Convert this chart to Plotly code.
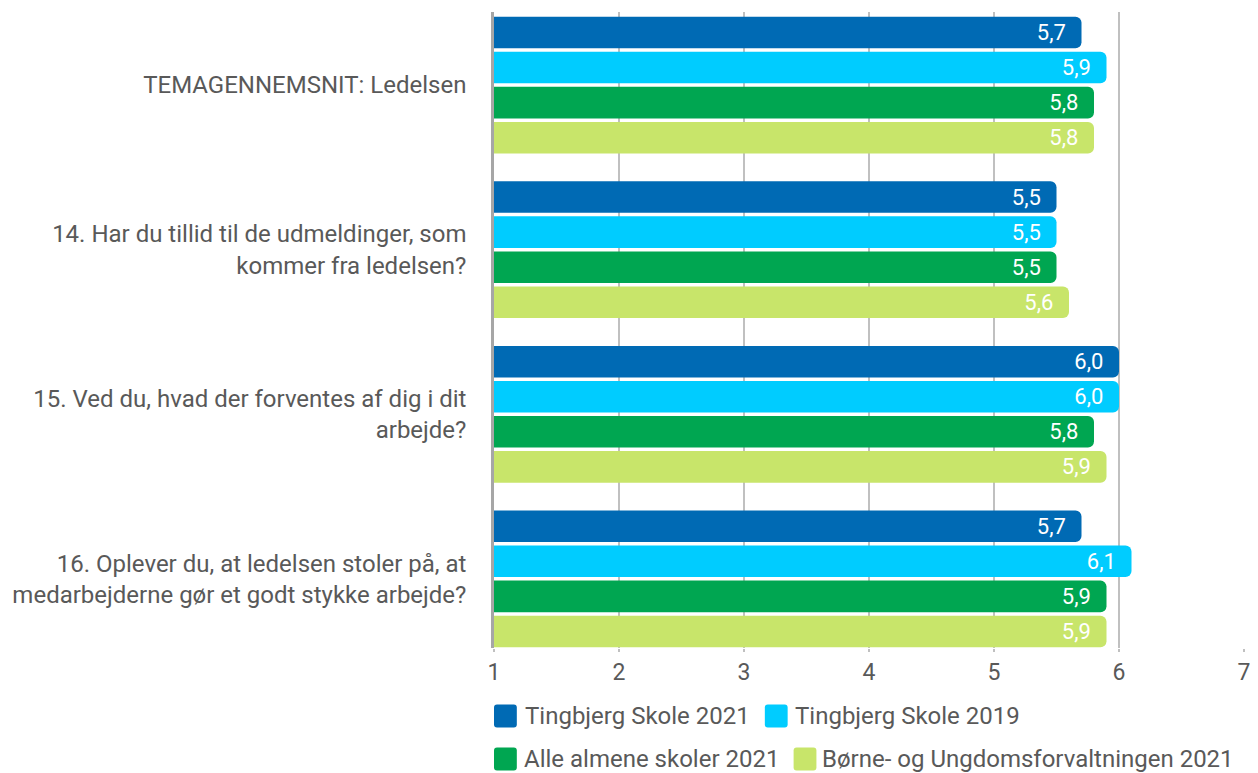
import plotly.graph_objects as go

categories = [
    "TEMAGENNEMSNIT: Ledelsen",
    "14. Har du tillid til de udmeldinger, som<br>kommer fra ledelsen?",
    "15. Ved du, hvad der forventes af dig i dit<br>arbejde?",
    "16. Oplever du, at ledelsen stoler på, at<br>medarbejderne gør et godt stykke arbejde?",
]
series_names = [
    "Tingbjerg Skole 2021",
    "Tingbjerg Skole 2019",
    "Alle almene skoler 2021",
    "Børne- og Ungdomsforvaltningen 2021",
]
tingbjerg_2021 = [5.7, 5.5, 6.0, 5.7]
tingbjerg_2019 = [5.9, 5.5, 6.0, 6.1]
alle_almene_2021 = [5.8, 5.5, 5.8, 5.9]
buf_2021 = [5.8, 5.6, 5.9, 5.9]
series_values = [tingbjerg_2021, tingbjerg_2019, alle_almene_2021, buf_2021]
x_ticks = [1, 2, 3, 4, 5, 6, 7]
x_ticktext = ["1", "2", "3", "4", "5", "6", "7"]

colors = ["#006AB4", "#00CCFF", "#00A651", "#C8E56A"]
FONT = "Roboto, 'Open Sans', sans-serif"
TXT = "#595959"

# page body has an 8px margin: figure is drawn at (8, 8) in the window
OFF = 8
W, H = 1258 - OFF, 773 - OFF
L, R, T, B = 488 - OFF, 1258 - 1244, 12 - OFF, 773 - 648
pw, ph = W - L - R, H - T - B


def px_to_paper(x, y):
    # x, y in window pixels
    return (x - OFF - L) / pw, (H - B - (y - OFF)) / ph


fig = go.Figure()
for name, vals, col in zip(series_names, series_values, colors):
    fig.add_trace(go.Bar(
        name=name,
        y=categories,
        x=vals,
        orientation="h",
        marker=dict(color=col, cornerradius=6, line=dict(width=0)),
        text=[f"{v:.1f}".replace(".", ",") + "\u00a0\u00a0" for v in vals],
        textposition="inside",
        insidetextanchor="end",
        textfont=dict(color="white", size=22, family=FONT),
        showlegend=False,
        hovertemplate="%{y}: %{x}<extra>" + name + "</extra>",
    ))

# manual legend (layout decoration): icon left x, centre y, text x (window px)
legend_slots = [(488, 716, 517), (761, 716, 789), (488, 759, 516), (790, 759, 817)]
shapes = []
annotations = []
for (ix, cy, tx), name, col in zip(legend_slots, series_names, colors):
    x0, y0 = px_to_paper(ix, cy - 11.5)
    x1, y1 = px_to_paper(ix + 23, cy + 11.5)
    rx = 3 / pw
    ry = 3 / ph
    path = (
        f"M{x0+rx},{y0} L{x1-rx},{y0} Q{x1},{y0} {x1},{y0-ry} "
        f"L{x1},{y1+ry} Q{x1},{y1} {x1-rx},{y1} L{x0+rx},{y1} "
        f"Q{x0},{y1} {x0},{y1+ry} L{x0},{y0-ry} Q{x0},{y0} {x0+rx},{y0} Z"
    )
    shapes.append(dict(type="path", xref="paper", yref="paper", path=path,
                       fillcolor=col, line=dict(width=0)))
    axp, ayp = px_to_paper(tx, cy)
    annotations.append(dict(xref="paper", yref="paper", x=axp, y=ayp,
                            xanchor="left", yanchor="middle", showarrow=False,
                            text=name, font=dict(size=24, color=TXT, family=FONT)))

fig.update_layout(
    width=W, height=H,
    margin=dict(l=L, r=R, t=T, b=B, pad=0),
    paper_bgcolor="white", plot_bgcolor="white",
    barmode="group", bargap=0.148, bargroupgap=0.1,
    showlegend=False,
    font=dict(family=FONT, color=TXT, size=22),
    shapes=shapes,
    annotations=annotations,
)
fig.update_xaxes(
    range=[1, 7], tickvals=x_ticks, ticktext=x_ticktext,
    showgrid=True, gridcolor="#C0C0C0", gridwidth=1.5,
    zeroline=False, showline=False,
    ticks="outside", ticklen=3, tickcolor="#C0C0C0", tickwidth=1.5,
    tickfont=dict(size=23, color=TXT, family=FONT),
)
fig.update_yaxes(
    type="category", categoryorder="array", categoryarray=categories,
    range=[3.42, -0.444],
    showgrid=False, zeroline=False,
    showline=True, linecolor="#A6A6A6", linewidth=2.5,
    ticks="", ticklabelstandoff=20,
    tickfont=dict(size=24, color=TXT, family=FONT),
)

fig.write_html("out.html")
